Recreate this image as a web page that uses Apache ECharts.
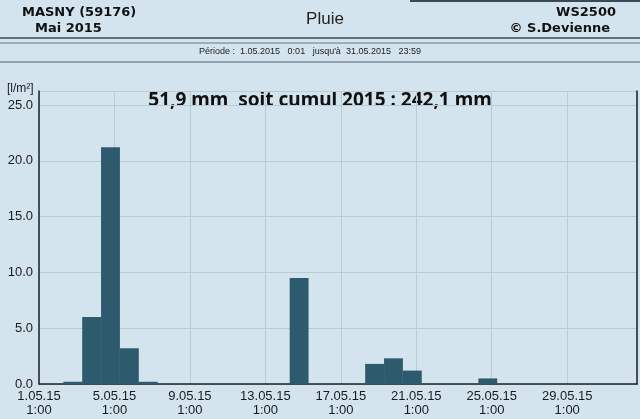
<!DOCTYPE html>
<html>
<head>
<meta charset="utf-8">
<script src="https://cdn.jsdelivr.net/npm/echarts@6/dist/echarts.min.js"></script>
<style>
html,body{margin:0;padding:0;background:#d3e4ee;}
#chart{width:640px;height:419px;}
</style>
</head>
<body>
<div id="chart"></div>
<script>
// Data (daily rain, May 2015, l/m²), one value per day 1..31
const days = [1,2,3,4,5,6,7,8,9,10,11,12,13,14,15,16,17,18,19,20,21,22,23,24,25,26,27,28,29,30,31];
const rain = [0,0.2,6.0,21.2,3.2,0.2,0,0,0,0,0,0,0,9.5,0,0,0,1.8,2.3,1.2,0,0,0,0.5,0,0,0,0,0,0,0];
const dayOffset = 0.29 + 0.5;      // rain day measured from 8:00, axis starts at 1.05 1:00
const xTickDays = [0,4,8,12,16,20,24,28];
const yTicks = [0,5,10,15,20,25];
const headerLeft = ['MASNY (59176)', 'Mai 2015'];
const headerRight = ['WS2500', '\u00A9 S.Devienne'];
const chartTitle = 'Pluie';
const periodText = 'P\u00E9riode :  1.05.2015   0:01   jusqu\'\u00E0  31.05.2015   23:59';
const summaryText = '51,9 mm  soit cumul 2015 : 242,1 mm';
const unitText = '[l/m\u00B2]';

const seriesData = days.map((d, i) => [d - 1 + dayOffset, rain[i]]);

const chart = echarts.init(document.getElementById('chart'));
const bold = {fontFamily: 'DejaVu Sans', fontWeight: 'bold', fontSize: 13, fill: '#111'};
chart.setOption({
  backgroundColor: '#d3e4ee',
  animation: false,
  grid: {left: 39, right: 3, top: 91, bottom: 35},
  xAxis: {
    type: 'value', min: 0, max: 31.7, interval: 4,
    axisLine: {show: true, lineStyle: {color: '#1c2226', width: 1.5}},
    axisTick: {show: false},
    splitLine: {show: true, lineStyle: {color: '#bccad2', width: 1}},
    axisLabel: {
      showMaxLabel: false,
      fontFamily: 'Liberation Sans', fontSize: 13, color: '#1a1a1a', lineHeight: 14, margin: 5,
      formatter: v => xTickDays.indexOf(v) >= 0 ? (v + 1) + '.05.15\n1:00' : ''
    }
  },
  yAxis: [{
    type: 'value', min: 0, max: 26.25, interval: 5,
    axisLine: {show: true, lineStyle: {color: '#1c2226', width: 1.5}},
    axisTick: {show: false},
    splitLine: {show: true, lineStyle: {color: '#bccad2', width: 1}},
    axisLabel: {
      showMaxLabel: false,
      fontFamily: 'Liberation Sans', fontSize: 13, color: '#1a1a1a', margin: 6,
      formatter: v => yTicks.indexOf(v) >= 0 ? v.toFixed(1) : ''
    }
  }, {
    type: 'value', min: 0, max: 26.25, position: 'right',
    axisLine: {show: true, lineStyle: {color: '#1c2226', width: 1.5}},
    axisTick: {show: false}, axisLabel: {show: false}, splitLine: {show: false}
  }],
  series: [{
    type: 'bar',
    data: seriesData,
    barWidth: '100%',
    itemStyle: {color: '#2d5a6d'},
    silent: true
  }],
  graphic: [
    {type: 'line', shape: {x1: 410, y1: 1, x2: 640, y2: 1}, style: {stroke: '#3a4a55', lineWidth: 2}},
    {type: 'line', shape: {x1: 0, y1: 38, x2: 640, y2: 38}, style: {stroke: '#3c4a52', lineWidth: 1.5}},
    {type: 'line', shape: {x1: 0, y1: 43, x2: 640, y2: 43}, style: {stroke: '#6b7a83', lineWidth: 1}},
    {type: 'line', shape: {x1: 0, y1: 62, x2: 640, y2: 62}, style: {stroke: '#56656e', lineWidth: 1}},
    {type: 'text', left: 22, top: 6, style: Object.assign({text: headerLeft[0]}, bold)},
    {type: 'text', left: 35, top: 22, style: Object.assign({text: headerLeft[1]}, bold)},
    {type: 'text', right: 24, top: 6, style: Object.assign({text: headerRight[0], textAlign: 'right'}, bold)},
    {type: 'text', right: 30, top: 22, style: Object.assign({text: headerRight[1], textAlign: 'right'}, bold)},
    {type: 'text', x: 325, y: 19, style: {text: chartTitle, fontFamily: 'Liberation Sans', fontSize: 17, fill: '#222', textAlign: 'center', textVerticalAlign: 'middle'}},
    {type: 'text', x: 310, y: 52, style: {text: periodText, fontFamily: 'Liberation Sans', fontSize: 9, fill: '#222', textAlign: 'center', textVerticalAlign: 'middle'}},
    {type: 'text', x: 320, y: 101, style: {text: summaryText, fontFamily: 'Noto Sans', fontWeight: 'bold', fontSize: 19, fill: '#111', textAlign: 'center', textVerticalAlign: 'middle'}},
    {type: 'text', x: 7, y: 89, style: {text: unitText, fontFamily: 'Liberation Sans', fontSize: 12, fill: '#1a1a1a', textVerticalAlign: 'middle'}}
  ]
});
</script>
</body>
</html>
